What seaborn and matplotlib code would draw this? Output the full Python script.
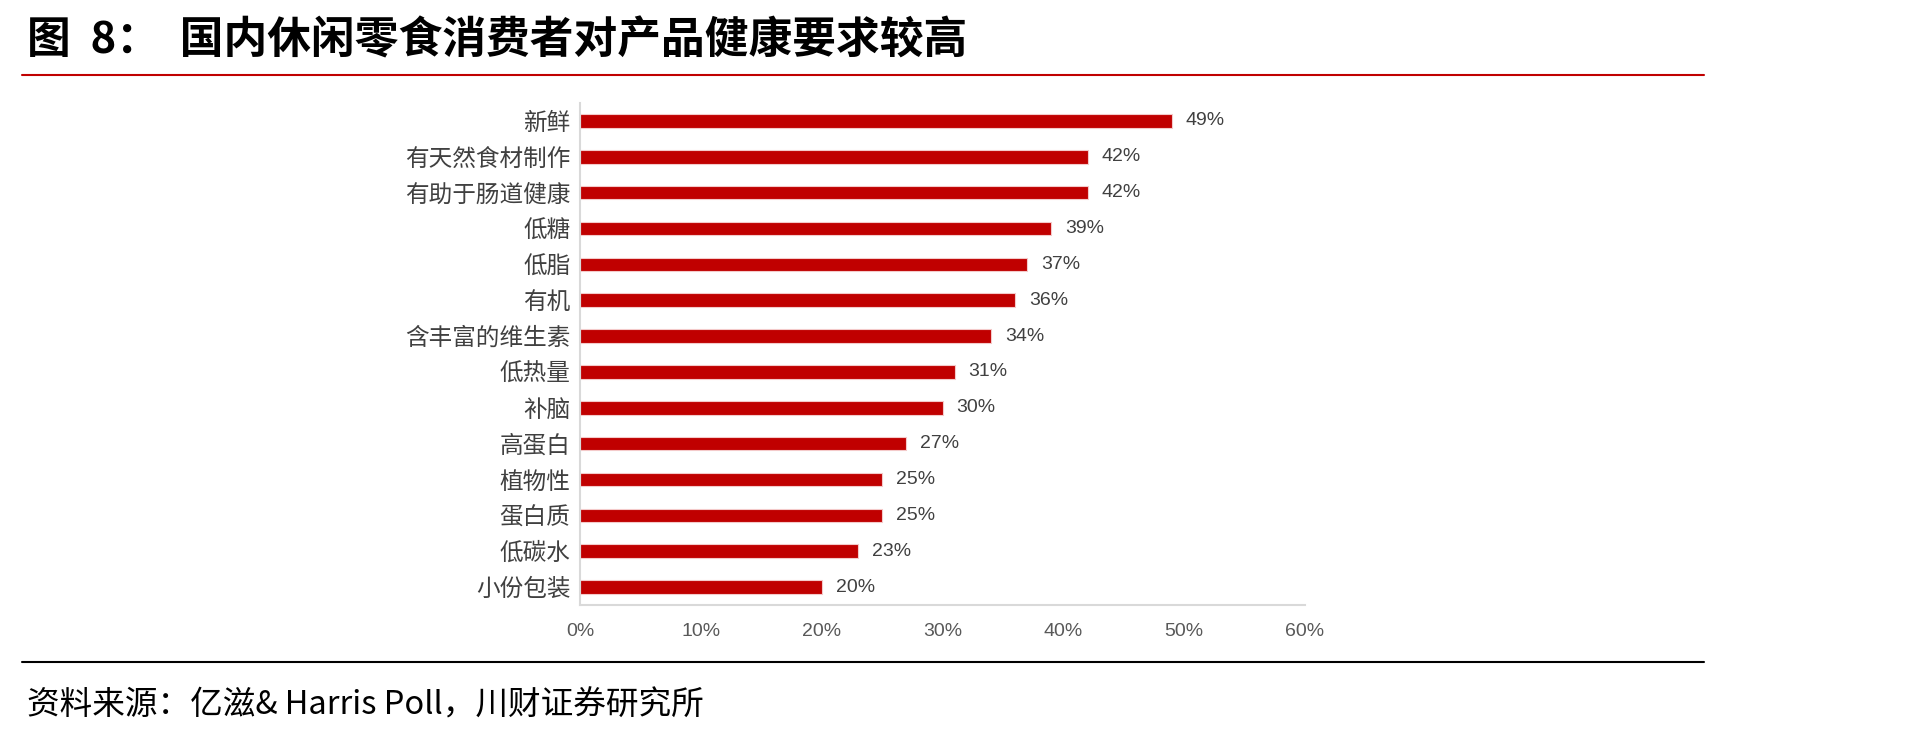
import matplotlib
matplotlib.use("Agg")
import matplotlib.pyplot as plt
import matplotlib.font_manager as fm
from matplotlib.lines import Line2D
from matplotlib.ticker import FuncFormatter
import seaborn as sns
import pandas as pd

# data
items = ["新鲜", "有天然食材制作", "有助于肠道健康", "低糖", "低脂", "有机",
         "含丰富的维生素", "低热量", "补脑", "高蛋白", "植物性", "蛋白质",
         "低碳水", "小份包装"]
shares = [49, 42, 42, 39, 37, 36, 34, 31, 30, 27, 25, 25, 23, 20]
x_ticks = [0, 10, 20, 30, 40, 50, 60]

title = "图  8：  国内休闲零食消费者对产品健康要求较高"
source = "资料来源：亿滋& Harris Poll，川财证券研究所"

sns.set_style("white")
plt.rcParams["font.family"] = ["Noto Sans CJK SC", "DejaVu Sans"]

# narrow font for the numbers if there is one
names = {f.name for f in fm.fontManager.ttflist}
num_font = "Liberation Sans Narrow" if "Liberation Sans Narrow" in names else "Liberation Sans"

df = pd.DataFrame({"item": items, "share": shares})

W, H = 1919, 732
fig = plt.figure(figsize=(W / 100, H / 100), dpi=100)
ax = fig.add_axes([580 / W, 1 - 605 / H, (1305 - 580) / W, 502 / H])

sns.barplot(data=df, x="share", y="item", orient="h", color="#C00000",
            width=0.38, edgecolor="#f4caca", linewidth=0.8, saturation=1, ax=ax)

ax.set_xlim(0, 60)
ax.set_xticks(x_ticks)
ax.xaxis.set_major_formatter(FuncFormatter(lambda v, p: f"{v:.0f}%"))
ax.set_xlabel("")
ax.set_ylabel("")

for s in ["top", "right"]:
    ax.spines[s].set_visible(False)
ax.spines["left"].set_color("#d9d9d9")
ax.spines["left"].set_linewidth(1.5)
ax.spines["bottom"].set_color("#d9d9d9")
ax.spines["bottom"].set_linewidth(1.5)

ax.tick_params(axis="x", which="major", length=4, width=1.2, color="#d9d9d9",
               direction="out", pad=9, labelsize=14, labelcolor="#595959")
ax.tick_params(axis="y", length=0, pad=7, labelsize=17, labelcolor="#404040")
for lab in ax.get_xticklabels():
    lab.set_fontfamily(num_font)

labels = ax.bar_label(ax.containers[0], labels=[f"{v}%" for v in shares],
                      padding=10, fontsize=14, color="#404040")
for t in labels:
    t.set_fontfamily(num_font)

# header and footer
fig.text(27 / W, 1 - 40 / H, title, fontsize=31.5, fontweight="bold",
         color="black", va="center", ha="left")
fig.add_artist(Line2D([22 / W, 1704 / W], [1 - 75 / H, 1 - 75 / H],
                      color="#C00000", linewidth=1.5))
fig.add_artist(Line2D([22 / W, 1704 / W], [1 - 662 / H, 1 - 662 / H],
                      color="black", linewidth=1.5))
fig.text(27 / W, 1 - 705 / H, source, fontsize=23.5, style="italic",
         color="black", va="center", ha="left")

fig.savefig("out.png", dpi=100)
